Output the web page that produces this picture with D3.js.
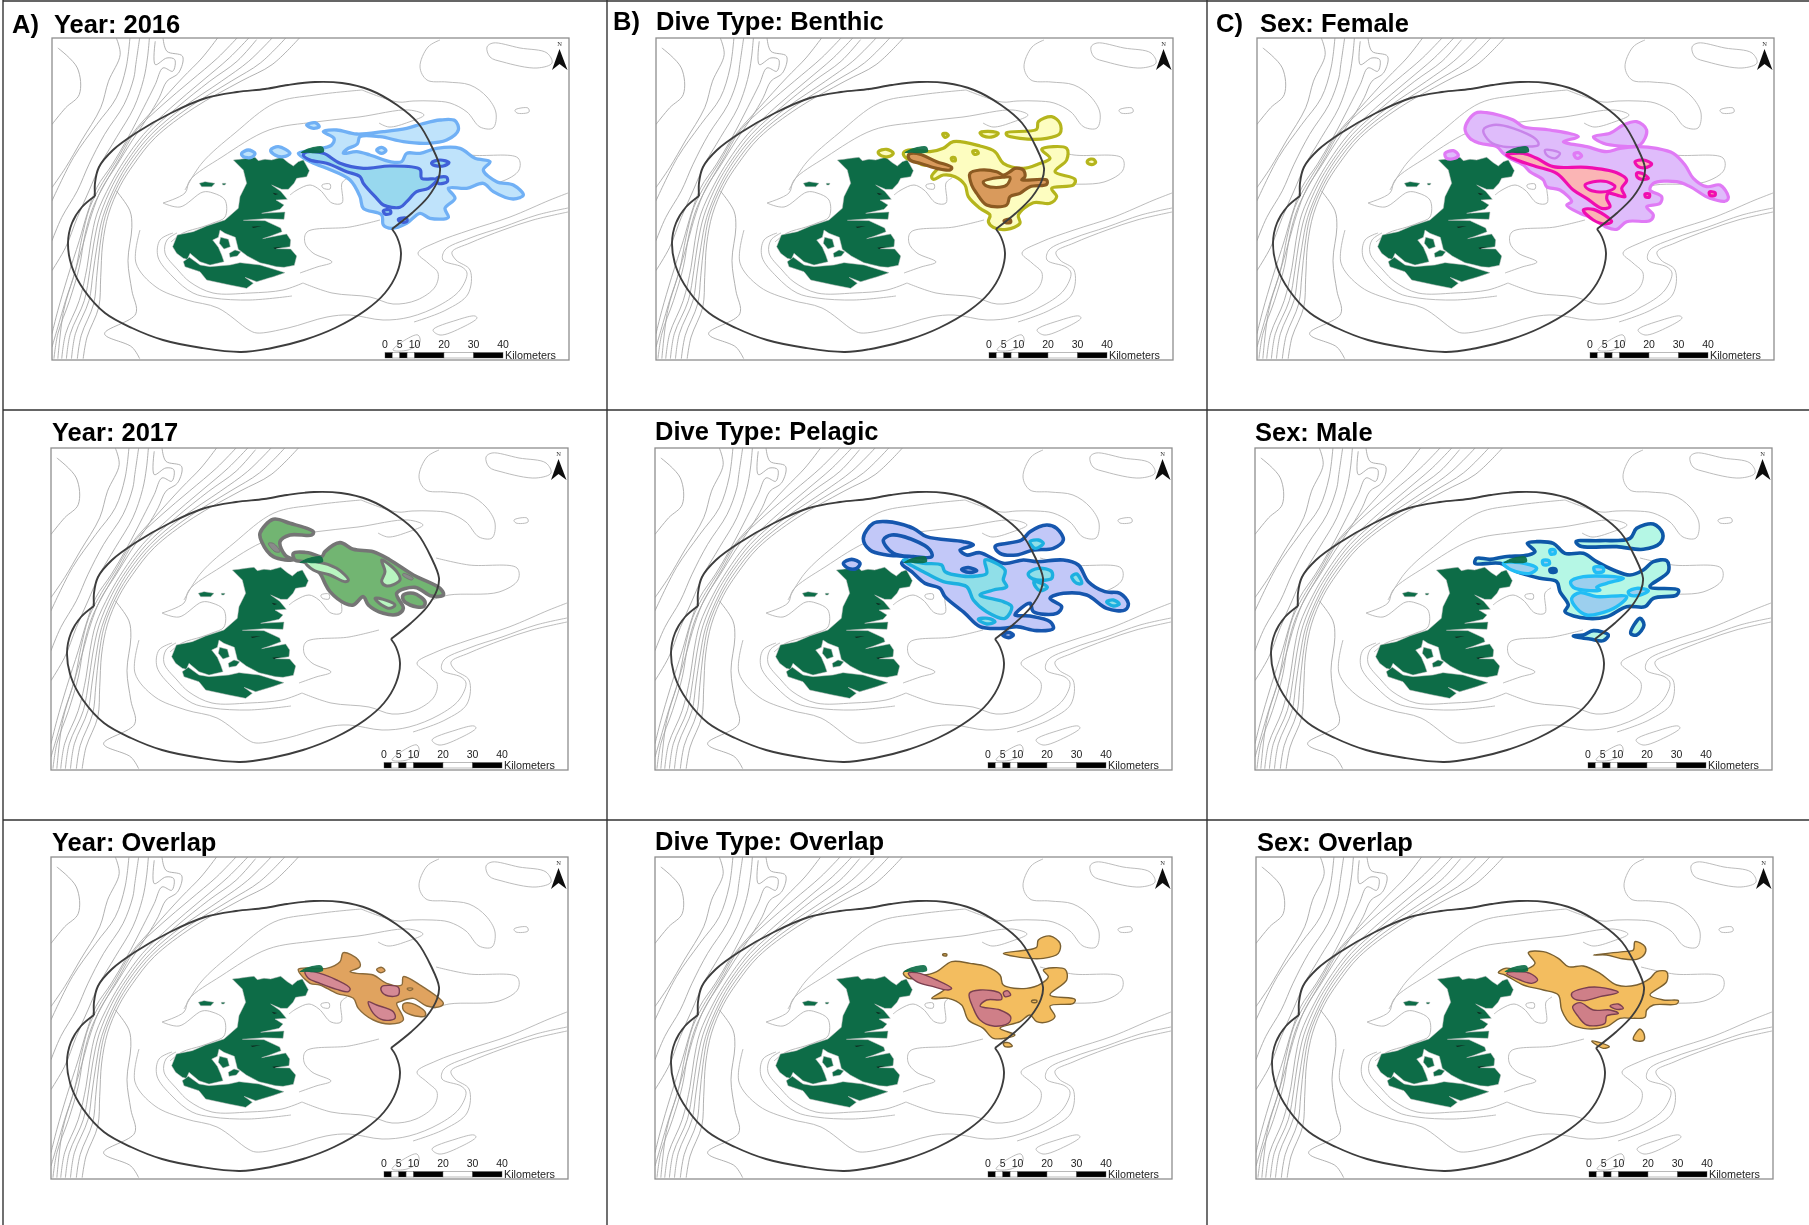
<!DOCTYPE html>
<html>
<head>
<meta charset="utf-8">
<script src="https://d3js.org/d3.v7.min.js"></script>
<style>
body { margin: 0; background: #fff; }
text { font-family: "Liberation Sans", Arial, sans-serif; }
</style>
</head>
<body>
<script>
// scale bar
var barKm = [0, 2.5, 5, 7.5, 10, 20, 30, 40];
var barLabels = [0, 5, 10, 20, 30, 40];

// panel text
var panelLetters = ["A)", "", "", "B)", "", "", "C)", "", ""];
var panelTitles = ["Year: 2016", "Year: 2017", "Year: Overlap",
                   "Dive Type: Benthic", "Dive Type: Pelagic", "Dive Type: Overlap",
                   "Sex: Female", "Sex: Male", "Sex: Overlap"];

// colony radius, map units
var rangeNorth = [[340,191],[360,175],[376,159],[386,142],[388,130],[380,109],[366,85],[345,67],[318,52],[290,45],[263,44],[236,47],[213,51],[185,54],[154,60],[119,75],[84,95],[61,112],[47,129],[43,145],[43,158]];
var rangeSouth = [[43,158],[30,169],[20,185],[16,205],[20,229],[32,252],[53,275],[80,290],[111,302],[150,310],[189,314],[220,310],[252,302],[283,290],[314,272],[333,255],[345,235],[349,215],[345,199],[340,191]];

// isobaths west side, sheet units
var depthWest = [
 [[150,140],[200,200],[205,280],[170,320],[135,370]],
 [[300,110],[310,160],[280,240],[260,320],[210,420],[170,500],[135,560]],
 [[335,110],[325,200],[300,290],[250,370],[190,470],[135,600]],
 [[360,110],[350,190],[345,230],[320,310],[270,400],[230,490],[200,570],[160,650],[135,720]],
 [[385,110],[380,170],[370,235],[345,320],[300,410],[260,490],[230,570],[200,650],[170,740],[135,810]],
 [[400,120],[400,190],[430,170],[450,175],[445,210],[420,200],[400,250],[370,320],[330,410],[290,490],[250,560],[225,640],[205,720],[175,830],[150,930],[135,1000]],
 [[420,110],[430,150],[470,165],[460,215],[430,240],[410,290],[380,350],[340,420],[300,495],[262,565],[237,640],[215,730],[190,830],[165,930],[150,1075]],
 [[560,110],[520,170],[470,230],[400,320],[340,400],[300,480],[265,545],[232,620],[212,710],[195,810],[170,900],[145,1000],[135,1040]],
 [[610,110],[560,170],[490,240],[420,310],[350,390],[310,470],[275,540],[240,620],[220,700],[205,800],[180,900],[150,1000],[140,1075]],
 [[640,110],[590,170],[520,240],[440,320],[370,400],[320,480],[285,550],[250,640],[235,720],[225,800],[205,900],[170,1000],[160,1075]],
 [[660,115],[610,180],[540,240],[455,320],[380,400],[328,480],[292,550],[258,645],[242,730],[232,810],[218,900],[182,1000],[172,1075]],
 [[700,110],[640,180],[570,240],[470,320],[390,400],[335,480],[300,550],[265,650],[250,740],[240,820],[230,900],[195,1000],[185,1075]],
 [[735,110],[670,185],[595,240],[485,320],[395,405],[340,485],[305,552],[272,645],[258,735],[250,825],[242,910],[210,1005],[200,1075]],
 [[770,110],[700,190],[620,240],[500,320],[400,410],[345,490],[310,555],[280,640],[265,730],[260,830],[255,920],[225,1010],[215,1075]],
 [[300,570],[335,630],[340,680],[330,780],[340,870],[350,940],[270,1000],[340,1040],[360,1075]]
];

// isobaths rest of map, map units
var depthEast = [
 [[516,155],[498,162],[458,179],[418,192],[385,204],[366,215],[376,225],[386,235],[383,249],[365,262],[341,266],[318,259],[280,255],[251,245]],
 [[516,170],[485,177],[451,189],[418,200],[393,212],[391,222],[410,229],[415,235],[408,252],[388,267],[358,279],[331,282],[298,277],[275,279],[236,290],[205,295],[197,292],[166,270],[135,262],[104,249],[84,225],[88,192]],
 [[516,174],[481,182],[451,192],[418,205],[400,214],[404,222],[418,232],[416,256],[394,272],[362,284]],
 [[388,2],[376,9],[368,29],[375,42],[395,44],[418,47],[435,59],[444,75],[441,90],[428,89],[415,74],[398,65],[381,63],[361,63],[346,64],[310,52]],
 [[133,152],[150,125],[183,95],[223,65],[263,57],[310,52]],
 [[111,165],[133,155],[138,142],[170,119],[217,92],[263,84],[307,79],[357,72],[372,77],[357,84],[337,89],[327,85]],
 [[385,110],[418,117],[466,120],[467,132],[448,144],[398,147],[381,152]],
 [[238,157],[245,152],[258,147],[268,152],[280,165],[290,165],[290,145],[296,140]],
 [[328,182],[298,189],[255,194],[253,205],[261,215],[280,224],[265,229],[248,235]],
 [[111,165],[128,169],[151,154],[161,155],[173,162],[173,179],[161,185],[150,189],[131,195],[119,204]],
 [[125,195],[115,202],[113,215],[126,232],[138,244],[161,255],[198,255],[231,252],[251,245]],
 [[121,195],[108,202],[106,219],[121,239],[141,255],[161,260],[198,262],[240,258]]
];
var depthClosed = [
 [[381,292],[405,282],[423,278],[425,280],[411,289],[388,297]],
 [[435,9],[441,5],[468,10],[495,15],[500,25],[485,30],[451,24],[438,19]],
 [[463,72],[476,70],[477,74],[465,75]],
 [[270,147],[278,146],[278,151],[271,150]],
 [[341,312],[353,302],[366,297],[368,304],[356,312]]
];

// land, traced at three times map scale
var islandMain = [[250,30],[270,28],[290,25],[315,22],[325,32],[345,28],[365,30],[395,22],[415,38],[430,48],[445,35],[460,30],[478,62],[470,80],[440,85],[432,100],[415,118],[395,118],[365,105],[392,124],[412,148],[378,150],[402,165],[390,178],[335,190],[405,186],[402,208],[345,206],[280,211],[345,212],[392,234],[396,245],[362,258],[338,266],[410,252],[422,270],[420,290],[378,296],[422,297],[440,318],[433,346],[402,352],[380,350],[330,338],[292,318],[275,305],[265,298],[256,262],[225,250],[210,240],[205,262],[188,270],[205,292],[215,315],[222,335],[180,345],[150,335],[120,310],[112,328],[100,325],[80,310],[68,290],[82,255],[130,245],[170,228],[225,210],[265,175],[270,140],[290,100],[280,60]];
var islandSouth = [[100,335],[118,322],[150,345],[180,350],[240,345],[270,338],[330,345],[405,368],[370,380],[320,395],[285,382],[310,400],[290,415],[240,405],[170,390],[150,365],[105,350]];
var islets = [[[238,310],[255,300],[272,305],[262,318],[240,322]],[[212,262],[235,268],[241,290],[222,297],[208,280]],[[148,100],[165,95],[195,100],[185,110],[155,110]],[[217,100],[228,100],[225,105],[218,105]]];
var northIslet = [[452,8],[470,-3],[495,-10],[518,-10],[522,5],[500,10],[475,8]];
var fjordMarks = [[[305,230],[335,228],[310,234]],[[370,293],[395,290],[375,297]],[[368,128],[385,132],[375,135]]];

// plumes, traced at three times sheet scale from each panel's crop corner
var plume2016Outer = [
 [[520,35],[560,30],[620,42],[700,35],[770,25],[815,12],[870,0],[915,2],[925,30],[890,60],[830,70],[760,65],[690,50],[630,50],[622,72],[590,88],[580,100],[620,95],[660,105],[720,125],[755,125],[770,100],[810,100],[860,85],[930,85],[975,115],[1020,125],[1000,150],[1040,185],[1090,195],[1120,225],[1090,237],[1030,215],[1000,190],[950,205],[895,205],[915,235],[885,265],[895,292],[840,295],[810,280],[770,310],[725,325],[700,315],[695,285],[640,265],[630,230],[600,180],[530,145],[480,125],[445,100],[490,90],[545,75],[552,55]],
 [[275,100],[295,90],[315,100],[305,112],[280,110]],
 [[362,90],[385,80],[420,100],[400,110],[375,105]],
 [[470,15],[495,8],[508,20],[490,25]],
 [[680,90],[695,82],[708,92],[695,100]]
];
var plume2016Inner = [
 [[460,105],[470,96],[520,100],[570,130],[640,145],[720,138],[810,148],[815,175],[860,178],[835,205],[800,215],[770,245],[750,262],[700,255],[680,235],[640,190],[630,170],[590,155],[530,130],[480,120]],
 [[845,128],[870,120],[897,128],[880,138],[850,135]],
 [[860,175],[890,172],[892,185],[865,190]],
 [[700,272],[720,270],[722,280],[705,282]],
 [[745,298],[770,295],[770,305],[750,305]]
];
var plume2017Outer = [
 [[255,155],[300,128],[340,148],[400,155],[450,180],[520,225],[600,265],[610,285],[575,288],[525,262],[470,280],[490,325],[475,342],[430,340],[385,315],[370,290],[340,315],[315,310],[270,275],[255,250],[240,220],[205,190],[190,185],[165,180],[160,160],[205,158],[245,170]],
 [[490,285],[520,280],[555,305],[550,320],[510,315],[490,300]],
 [[60,100],[100,58],[150,70],[220,95],[215,105],[150,105],[120,125],[135,165],[160,180],[100,170],[65,125]]
];
var plume2017Inner = [
 [[195,185],[230,185],[290,205],[325,240],[315,245],[270,225],[220,210]],
 [[425,180],[470,215],[480,240],[440,258],[425,245],[435,215]],
 [[405,295],[430,298],[465,315],[450,325],[425,315]]
];
var plume2017Marks = [[[85,130],[100,130],[120,155],[105,155]],[[490,220],[520,235],[515,240],[488,226]]];
var overlapYearOuter = [
 [[55,118],[110,115],[140,115],[180,95],[190,68],[235,90],[240,110],[210,125],[230,130],[280,135],[320,160],[365,165],[370,140],[420,165],[490,220],[480,230],[440,228],[400,205],[360,215],[350,220],[370,270],[330,282],[280,270],[235,235],[220,205],[170,190],[120,165],[90,160]],
 [[370,222],[395,220],[435,245],[435,258],[395,255],[370,240]],
 [[290,118],[305,112],[315,122],[300,128]],
 [[382,175],[398,175],[395,180],[385,180]]
];
var overlapYearInner = [
 [[75,125],[100,125],[170,150],[210,175],[205,185],[170,178],[120,160],[85,145]],
 [[305,170],[355,172],[355,195],[325,198],[305,185]],
 [[265,215],[290,225],[340,245],[345,265],[310,270],[280,250]]
];
var benthicOuter = [
 [[520,155],[600,168],[645,185],[670,220],[730,235],[775,222],[810,205],[785,178],[860,175],[860,210],[825,245],[885,268],[880,285],[815,295],[830,320],[810,340],[760,338],[715,375],[720,400],[680,418],[640,412],[625,395],[630,375],[600,355],[565,320],[555,285],[525,260],[490,255],[460,268],[455,258],[480,225],[430,225],[400,210],[380,205],[370,190],[385,180],[450,185],[490,175]],
 [[680,128],[770,118],[775,95],[815,80],[840,100],[840,130],[800,145],[720,145],[680,135]],
 [[600,128],[625,124],[655,130],[640,140],[610,138]],
 [[295,185],[320,178],[340,190],[325,200],[300,195]],
 [[488,132],[498,130],[505,136],[495,142]],
 [[578,184],[590,182],[595,190],[583,193]],
 [[514,204],[524,203],[526,212],[517,212]],
 [[925,210],[940,208],[947,217],[935,224],[922,218]]
];
var benthicInner = [
 [[385,195],[410,190],[470,215],[515,232],[510,240],[470,235],[420,220],[390,210]],
 [[570,250],[600,240],[650,245],[670,255],[690,245],[705,235],[730,240],[735,260],[725,270],[800,270],[800,283],[750,290],[720,310],[690,320],[680,345],[620,345],[590,310],[575,285]],
 [[672,392],[690,388],[692,397],[678,398]]
];
var benthicHole = [[610,275],[640,265],[670,262],[690,262],[680,285],[640,292],[615,285]];
var pelagicOuter = [
 [[100,115],[130,70],[170,65],[250,85],[290,110],[400,125],[430,135],[390,150],[410,165],[450,158],[520,190],[580,180],[620,185],[700,180],[745,195],[775,245],[825,275],[870,280],[895,310],[885,330],[830,325],[770,285],[700,280],[660,295],[695,320],[680,340],[610,335],[600,310],[555,345],[600,348],[660,365],[670,385],[620,392],[560,380],[520,385],[450,380],[405,340],[345,290],[330,265],[285,250],[245,215],[215,190],[230,175],[225,170],[170,165],[120,150]],
 [[160,120],[185,105],[250,120],[300,150],[305,170],[250,170],[190,160]],
 [[40,190],[65,178],[90,190],[80,205],[55,205]],
 [[495,140],[575,120],[600,95],[650,75],[680,85],[700,120],[670,145],[610,150],[560,165],[510,160]],
 [[395,208],[415,203],[440,212],[415,217]],
 [[518,405],[535,397],[550,405],[535,413]]
];
var pelagicInner = [
 [[220,180],[280,190],[335,195],[345,215],[395,228],[440,228],[470,220],[465,180],[525,210],[520,240],[530,260],[490,270],[450,285],[520,305],[545,320],[525,355],[470,335],[430,300],[410,260],[340,245],[280,215]],
 [[595,220],[625,205],[665,215],[665,235],[620,240],[600,232]],
 [[725,230],[740,222],[755,250],[740,250]],
 [[830,305],[850,300],[868,312],[850,318]],
 [[445,358],[475,355],[495,365],[470,372]],
 [[600,125],[625,120],[640,130],[615,145]],
 [[612,245],[635,250],[652,262],[630,272],[618,262]]
];
var overlapDiveOuter = [
 [[170,155],[215,125],[270,130],[320,140],[360,165],[370,195],[440,205],[485,190],[505,170],[490,150],[555,148],[560,180],[510,225],[585,238],[580,250],[510,258],[525,290],[505,305],[470,305],[450,285],[420,305],[360,325],[405,345],[340,355],[310,325],[265,300],[245,255],[205,235],[155,235],[195,205],[130,175],[85,175],[70,160],[85,150],[130,165]],
 [[370,100],[440,90],[470,82],[475,60],[510,48],[540,70],[535,100],[490,115],[420,112]],
 [[370,370],[385,368],[397,378],[375,380]],
 [[188,103],[200,102],[200,107],[190,107]],
 [[455,242],[470,241],[470,247],[456,247]]
];
var overlapDiveInner = [
 [[85,160],[110,158],[170,180],[215,205],[205,210],[160,200],[110,185]],
 [[268,220],[300,210],[360,220],[365,238],[320,240],[300,258],[360,270],[392,290],[385,310],[340,318],[300,300],[280,265]],
 [[370,218],[382,212],[392,225],[375,230]]
];
var femaleOuter = [
 [[225,115],[255,70],[290,68],[370,90],[400,110],[480,120],[565,140],[520,155],[590,170],[650,185],[690,175],[745,170],[800,175],[850,190],[885,225],[910,265],[950,290],[990,285],[1015,320],[1010,332],[960,325],[900,290],[860,275],[790,280],[780,300],[815,320],[810,340],[770,350],[790,375],[780,392],[710,395],[680,418],[650,412],[610,385],[570,370],[530,345],[545,335],[510,300],[470,290],[460,270],[420,245],[400,225],[360,205],[340,190],[320,170],[270,160],[240,145]],
 [[610,140],[660,130],[700,105],[740,95],[770,120],[750,165],[690,168],[640,160]],
 [[165,190],[190,182],[205,195],[195,205],[170,205]],
 [[552,192],[565,188],[575,198],[560,205]]
];
var femaleLines = [[[280,120],[310,105],[370,115],[440,150],[445,165],[400,170],[340,170],[300,155]],[[465,180],[510,190],[495,205],[470,195]]];
var femaleInner = [
 [[350,195],[400,190],[440,205],[490,230],[590,232],[680,248],[710,270],[695,295],[705,320],[690,318],[655,310],[650,325],[660,350],[635,355],[590,325],[550,300],[500,250],[440,230],[380,210]],
 [[735,215],[760,210],[785,222],[770,232],[745,230]],
 [[580,360],[610,358],[665,395],[645,402],[610,390]],
 [[740,250],[755,250],[775,265],[755,268],[742,262]],
 [[958,306],[975,308],[975,316],[960,316]],
 [[765,312],[778,312],[778,321],[767,321]]
];
var femaleHole = [[585,285],[610,275],[650,275],[675,290],[660,302],[620,305],[595,298]];
var maleOuter = [
 [[262,130],[290,125],[340,130],[375,160],[430,160],[470,185],[520,210],[570,225],[610,210],[640,185],[680,182],[685,215],[630,260],[715,270],[710,285],[640,295],[615,320],[560,320],[500,350],[440,355],[375,335],[385,315],[360,275],[350,245],[300,235],[230,215],[180,190],[105,190],[110,175],[150,178],[195,170],[265,165],[285,155]],
 [[408,125],[480,122],[570,115],[590,85],[640,72],[668,100],[660,130],[610,148],[530,140],[420,138]],
 [[400,408],[430,405],[460,392],[505,405],[490,422],[450,417]],
 [[572,400],[600,355],[612,375],[590,405]],
 [[330,208],[346,207],[348,215],[332,216]]
];
var maleInner = [
 [[392,245],[430,230],[550,235],[500,250],[470,262],[480,270],[450,272],[400,262]],
 [[395,295],[420,278],[470,290],[560,290],[530,320],[480,340],[440,345],[410,325]],
 [[190,190],[240,188],[290,205],[270,220],[215,210]],
 [[565,275],[590,265],[625,272],[600,285],[570,285]],
 [[330,150],[344,150],[345,160],[332,162]],
 [[308,182],[326,182],[328,192],[310,194]],
 [[462,202],[488,202],[490,214],[466,216]]
];
var overlapSexOuter = [
 [[115,68],[160,65],[205,85],[235,110],[280,108],[330,130],[380,165],[440,165],[480,145],[500,125],[530,125],[530,155],[480,195],[520,210],[565,212],[560,222],[490,225],[470,240],[465,262],[430,265],[390,265],[350,290],[280,295],[240,280],[215,240],[205,195],[160,180],[100,165],[45,135],[25,128],[45,115],[100,120],[135,100]],
 [[310,75],[400,65],[430,60],[435,35],[465,50],[465,70],[440,88],[390,85],[350,75]],
 [[430,328],[450,297],[463,315],[460,332]],
 [[305,333],[330,338],[358,350],[340,355]]
];
var overlapSexInner = [
 [[50,130],[75,125],[120,130],[143,150],[125,160],[90,150]],
 [[245,190],[280,175],[330,172],[385,187],[330,200],[280,212],[250,205]],
 [[248,230],[270,218],[310,240],[360,240],[385,250],[350,258],[345,280],[290,285],[265,260]],
 [[360,228],[385,222],[400,235],[380,238]]
];

var green = "#0a6c46";
var frameW = 517, frameH = 322;

// each panel: frame corner, title spot, crop corner for its plume tracing, layers
var panels = [
 {i:0, fx:52,  fy:38,  tx:54,  ty:33,  lx:12,   cx:150,  cy:120, layers:[[plume2016Outer,"#bfe3fb","#70b0f5",3.3],[plume2016Inner,"#98d8ee","#3f60d8",3.2]]},
 {i:1, fx:51,  fy:448, tx:52,  ty:441, cx:240,  cy:500, layers:[[plume2017Outer,"#72b572","#757575",3.6],[plume2017Inner,"#b8f5c0","#757575",3],[plume2017Marks,"#8a8a8a","#757575",1]]},
 {i:2, fx:51,  fy:857, tx:52,  ty:851, cx:280,  cy:930, layers:[[overlapYearOuter,"#e0a35f","#8a6a3a",1.4],[overlapYearInner,"#d58a95","#7a3f50",1.4]]},
 {i:3, fx:656, fy:38,  tx:656, ty:30,  lx:613,  cx:780,  cy:90,  layers:[[benthicOuter,"#fdfdc0","#b5b51e",3.2],[benthicInner,"#d99a5c","#8b5a20",3.2],[[benthicHole],"#fdfdc0","#8b5a20",3]]},
 {i:4, fx:655, fy:448, tx:655, ty:440, cx:830,  cy:500, layers:[[pelagicOuter,"#c2c8f8","#1557ae",3.6],[pelagicInner,"#90dfe8","#1fb0e0",3.4]]},
 {i:5, fx:655, fy:857, tx:655, ty:850, cx:880,  cy:920, layers:[[overlapDiveOuter,"#f3bd5f","#7a6030",1.4],[overlapDiveInner,"#cf7f88","#7a3f50",1.4]]},
 {i:6, fx:1257,fy:38,  tx:1260,ty:32,  lx:1216, cx:1390, cy:90,  layers:[[femaleOuter,"#dfbcfb","#e07af5",3.2],[femaleLines,"none","#c884ea",2.4],[femaleInner,"#fbb5b5","#f010b0",3.2],[[femaleHole],"#dfbcfb","#f010b0",3]]},
 {i:7, fx:1255,fy:448, tx:1255,ty:441, cx:1440, cy:500, layers:[[maleOuter,"#b5f7e5","#1058a8",3.6],[maleInner,"#9ccfee","#22bdf5",3.4]]},
 {i:8, fx:1256,fy:857, tx:1257,ty:851, cx:1490, cy:930, layers:[[overlapSexOuter,"#f3bd5f","#7a6030",1.4],[overlapSexInner,"#cf7f88","#7a3f50",1.4]]}
];

var svg = d3.select("body").append("svg")
  .attr("width", 1809).attr("height", 1225)
  .style("display", "block");

svg.append("defs").append("filter").attr("id", "soft")
  .append("feGaussianBlur").attr("stdDeviation", 0.45);

var page = svg.append("g").attr("filter", "url(#soft)");

panels.forEach(drawPanel);

// sheet rules
var ruleX = [3, 607, 1207], ruleY = [1, 410, 820];
page.selectAll(".rv").data(ruleX).enter().append("line")
  .attr("x1", function(d) { return d; }).attr("x2", function(d) { return d; })
  .attr("y1", 0).attr("y2", 1225).attr("stroke", "#333").attr("stroke-width", 1.4);
page.selectAll(".rh").data(ruleY).enter().append("line")
  .attr("x1", 3).attr("x2", 1809)
  .attr("y1", function(d) { return d; }).attr("y2", function(d) { return d; })
  .attr("stroke", "#333").attr("stroke-width", 1.4);

function drawPanel(p) {
  var g = page.append("g");

  // map units to page
  var x = d3.scaleLinear().domain([0, frameW]).range([p.fx, p.fx + frameW]);
  var y = d3.scaleLinear().domain([0, frameH]).range([p.fy, p.fy + frameH]);
  // sheet units (west isobaths)
  var sx = d3.scaleLinear().domain([135, 1462]).range([p.fx, p.fx + frameW]);
  var sy = d3.scaleLinear().domain([110, 1079]).range([p.fy, p.fy + frameH]);
  // land tracing units
  var ix = d3.scaleLinear().domain([0, 3]).range([x(98), x(99)]);
  var iy = d3.scaleLinear().domain([0, 3]).range([y(112), y(113)]);
  // plume tracing units
  var px = d3.scaleLinear().domain([0, 3]).range([p.cx, p.cx + 1]);
  var py = d3.scaleLinear().domain([0, 3]).range([p.cy, p.cy + 1]);

  var clipId = "clip" + p.i;
  svg.select("defs").append("clipPath").attr("id", clipId).append("rect")
    .attr("x", p.fx).attr("y", p.fy).attr("width", frameW).attr("height", frameH);

  var mapLine = d3.line().x(function(d) { return x(d[0]); }).y(function(d) { return y(d[1]); }).curve(d3.curveCatmullRom);
  var mapClosed = d3.line().x(function(d) { return x(d[0]); }).y(function(d) { return y(d[1]); }).curve(d3.curveCatmullRomClosed);
  var sheetLine = d3.line().x(function(d) { return sx(d[0]); }).y(function(d) { return sy(d[1]); }).curve(d3.curveCatmullRom);
  var landPath = d3.line().x(function(d) { return ix(d[0]); }).y(function(d) { return iy(d[1]); }).curve(d3.curveLinearClosed);
  var islePath = d3.line().x(function(d) { return ix(d[0]); }).y(function(d) { return iy(d[1]); }).curve(d3.curveCatmullRomClosed);
  var plumePath = d3.line().x(function(d) { return px(d[0]); }).y(function(d) { return py(d[1]); }).curve(d3.curveCatmullRomClosed);

  var map = g.append("g").attr("clip-path", "url(#" + clipId + ")");

  map.selectAll(".w").data(depthWest).enter().append("path")
    .attr("d", sheetLine).attr("fill", "none").attr("stroke", "#a8a8a8").attr("stroke-width", 0.9);
  map.selectAll(".e").data(depthEast).enter().append("path")
    .attr("d", mapLine).attr("fill", "none").attr("stroke", "#b4b4b4").attr("stroke-width", 0.9);
  map.selectAll(".c").data(depthClosed).enter().append("path")
    .attr("d", mapClosed).attr("fill", "none").attr("stroke", "#b4b4b4").attr("stroke-width", 0.9);

  // land
  map.selectAll(".land").data([islandMain, islandSouth].concat(islets)).enter().append("path")
    .attr("d", landPath).attr("fill", green).attr("stroke", "#b9b9b9").attr("stroke-width", 0.5);
  map.selectAll(".fj").data(fjordMarks).enter().append("path")
    .attr("d", landPath).attr("fill", "#0c2a20");

  // plumes
  p.layers.forEach(function(l) {
    map.append("g").selectAll("path").data(l[0]).enter().append("path")
      .attr("d", plumePath).attr("fill", l[1]).attr("stroke", l[2])
      .attr("stroke-width", l[3]).attr("stroke-linejoin", "round");
  });

  map.append("path").datum(northIslet).attr("d", islePath).attr("fill", green).attr("opacity", 0.92);

  // colony range
  [rangeNorth, rangeSouth].forEach(function(r) {
    map.append("path").datum(r).attr("d", mapLine)
      .attr("fill", "none").attr("stroke", "#3d3d3d").attr("stroke-width", 1.9);
  });

  // frame
  g.append("rect").attr("x", p.fx).attr("y", p.fy).attr("width", frameW).attr("height", frameH)
    .attr("fill", "none").attr("stroke", "#8e8e8e").attr("stroke-width", 1.3);

  // north arrow
  var north = [[507.5,11],[500,32],[507.5,26],[515.5,32]];
  g.append("path").datum(north)
    .attr("d", d3.line().x(function(d) { return x(d[0]); }).y(function(d) { return y(d[1]); }).curve(d3.curveLinearClosed))
    .attr("fill", "#111");
  g.append("text").attr("x", x(507.5)).attr("y", y(8)).attr("text-anchor", "middle")
    .style("font-family", "'Liberation Serif', serif").style("font-size", "6.5px").attr("fill", "#333").text("N");

  // scale bar
  var km = d3.scaleLinear().domain([0, 40]).range([x(333), x(451)]);
  var barY = y(314.5), barH = 5.5;
  g.selectAll(".seg").data(d3.pairs(barKm)).enter().append("rect")
    .attr("x", function(d) { return km(d[0]); })
    .attr("y", barY)
    .attr("width", function(d) { return km(d[1]) - km(d[0]); })
    .attr("height", barH)
    .attr("fill", function(d, i) { return i % 2 == 0 ? "#000" : "#fff"; })
    .attr("stroke", "#555").attr("stroke-width", 0.4);
  g.selectAll(".lab").data(barLabels).enter().append("text")
    .attr("x", function(d) { return km(d); })
    .attr("y", y(309.5)).attr("text-anchor", "middle")
    .style("font-size", "10.5px").attr("fill", "#222")
    .text(function(d) { return d; });
  g.append("text").attr("x", km(40) + 2).attr("y", y(320.5))
    .style("font-size", "10.8px").attr("fill", "#222").text("Kilometers");

  // titles
  g.append("text").attr("x", p.tx).attr("y", p.ty)
    .style("font-size", "25.5px").style("font-weight", "bold").attr("fill", "#000")
    .text(panelTitles[p.i]);
  if (p.lx) {
    g.append("text").attr("x", p.lx).attr("y", p.ty)
      .style("font-size", "25.5px").style("font-weight", "bold").attr("fill", "#000")
      .text(panelLetters[p.i]);
  }
}
</script>
</body>
</html>
